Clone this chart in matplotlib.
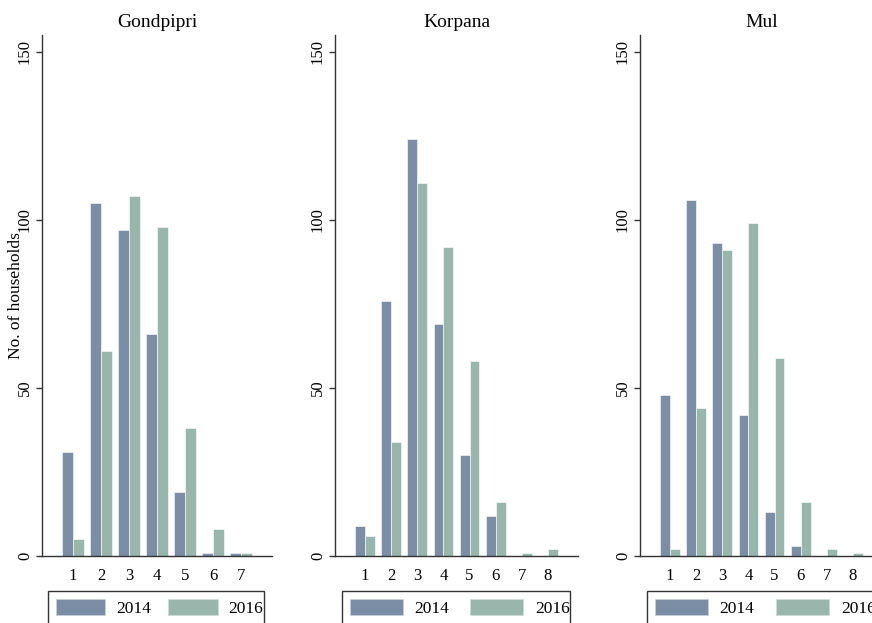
import matplotlib
matplotlib.use("Agg")
import matplotlib.pyplot as plt
from matplotlib.patches import Patch, Rectangle

plt.rcParams['font.family'] = ['Liberation Serif', 'DejaVu Serif']

districts = ["Gondpipri", "Korpana", "Mul"]
cats_gondpipri = [1, 2, 3, 4, 5, 6, 7]
cats_korpana = [1, 2, 3, 4, 5, 6, 7, 8]
cats_mul = [1, 2, 3, 4, 5, 6, 7, 8]

gondpipri_2014 = [31, 105, 97, 66, 19, 1, 1]
gondpipri_2016 = [5, 61, 107, 98, 38, 8, 1]
korpana_2014 = [9, 76, 124, 69, 30, 12, 0, 0]
korpana_2016 = [6, 34, 111, 92, 58, 16, 1, 2]
mul_2014 = [48, 106, 93, 42, 13, 3, 0, 0]
mul_2016 = [2, 44, 91, 99, 59, 16, 2, 1]

series_labels = ["2014", "2016"]
yticks = [0, 50, 100, 150]

c2014 = "#7b8ea6"
c2016 = "#99b6ac"
axcol = "#333333"

W, H = 872, 623
fig = plt.figure(figsize=(W / 100, H / 100), dpi=100)

# title, cats, v14, v16, axis left px, axis right px, x offset,
# legend box left px, legend box right px, handlelength, handletextpad, columnspacing
panels = [
    (districts[0], cats_gondpipri, gondpipri_2014, gondpipri_2016, 42, 272, 1.1,
     48, 264, 2.85, 0.62, 1.0),
    (districts[1], cats_korpana, korpana_2014, korpana_2016, 335, 578, 1.15,
     342, 570, 3.05, 0.68, 1.2),
    (districts[2], cats_mul, mul_2014, mul_2016, 640, 883, 1.15,
     647, 890, 3.05, 0.68, 1.25),
]

y0_px, y1_px = 556, 35
bw = 0.38
for (title, cats, v14, v16, xl, xr, off, lx0, lx1, hl, htp, cs) in panels:
    ax = fig.add_axes([xl / W, (H - y0_px) / H, (xr - xl) / W, (y0_px - y1_px) / H])
    x = list(cats)
    ax.bar([c - bw / 2 for c in x], v14, width=bw, color=c2014,
           edgecolor="white", linewidth=0.4)
    ax.bar([c + bw / 2 for c in x], v16, width=bw, color=c2016,
           edgecolor="white", linewidth=0.4)
    ax.set_xlim(cats[0] - off, cats[-1] + off)
    ax.set_ylim(0, 155)
    ax.set_yticks(yticks)
    ax.set_xticks(x)
    ax.set_xticklabels([str(c) for c in x])
    for s in ["top", "right"]:
        ax.spines[s].set_visible(False)
    for s in ["left", "bottom"]:
        ax.spines[s].set_color(axcol)
        ax.spines[s].set_linewidth(1.0)
    ax.tick_params(axis="x", length=0, pad=9, labelsize=12)
    ax.tick_params(axis="y", length=4.5, width=1.0, color=axcol, pad=2, labelsize=12)
    for lab in ax.get_yticklabels():
        lab.set_rotation(90)
        lab.set_va("center")
    ax.set_title(title, fontsize=14, pad=6)
    handles = [Patch(facecolor=c2014, edgecolor="#c8d0da", linewidth=0.5),
               Patch(facecolor=c2016, edgecolor="#cfdcd7", linewidth=0.5)]
    ax.legend(handles, series_labels, loc="upper left",
              bbox_to_anchor=(lx0 / W, 1 - 591 / H),
              bbox_transform=fig.transFigure, ncol=2, fontsize=12.5,
              frameon=False, handlelength=hl, handleheight=1.05,
              handletextpad=htp, columnspacing=cs, borderpad=0.45,
              borderaxespad=0)
    fig.add_artist(Rectangle((lx0 / W, -10 / H), (lx1 - lx0) / W, (H - 591 + 10) / H,
                             transform=fig.transFigure, fill=False,
                             edgecolor=axcol, linewidth=1.0, zorder=5))

fig.text(16 / W, 1 - 296 / H, "No. of households", rotation=90,
         ha="center", va="center", fontsize=12.5)

fig.savefig("out.png", dpi=100)
